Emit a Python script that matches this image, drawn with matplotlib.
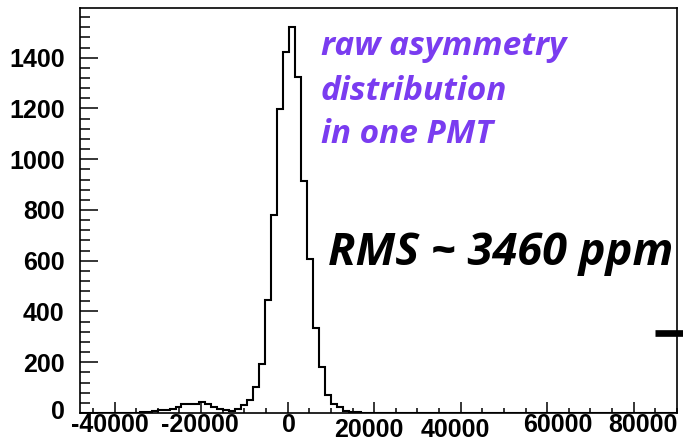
import numpy as np
import matplotlib
matplotlib.use("Agg")
import matplotlib.pyplot as plt
from matplotlib.transforms import ScaledTranslation


# -------------------------------------------------
# DATA
# -------------------------------------------------

bin_lo = -48000
bin_hi = 90000

counts = [
    0, 0, 0, 0, 0, 0, 0, 0, 1, 1,
    2, 4, 8, 13, 13, 17, 24, 34, 37, 37,
    42, 37, 24, 17, 10, 9, 16, 32, 52, 104,
    193, 445, 780, 1198, 1421, 1520, 1324, 913, 607, 336,
    180, 72, 37, 23, 8, 4, 2, 1, 0, 0,
    0, 0, 0, 0, 0, 0, 0, 0, 0, 0,
    0, 0, 0, 0, 0, 0, 0, 0, 0, 0,
    0, 0, 0, 0, 0, 0, 0, 0, 0, 0,
    0, 0, 0, 0, 0, 0, 0, 0, 0, 0,
    0, 0, 0, 0, 0, 0, 0, 0, 0, 0,
]

x_ticks = [-40000, -20000, 0, 20000, 40000, 60000, 80000]
x_labels = ["-40000", "-20000", "0", "20000", "40000", "60000", "80000"]
y_ticks = [0, 200, 400, 600, 800, 1000, 1200, 1400]

# little dash sticking out of the right frame
dash_x = [85000, 91500]
dash_y = [315, 315]

note_lines = ["raw asymmetry", "distribution", "in one PMT"]
rms_text = "RMS ~ 3460 ppm"


# -------------------------------------------------
# FIGURE
# -------------------------------------------------

plt.rcParams["axes.unicode_minus"] = False

fig = plt.figure(figsize=(6.83, 4.42), dpi=100)
ax = fig.add_axes([0.1171, 0.0656, 0.8741, 0.9163])

edges = np.linspace(bin_lo, bin_hi, len(counts) + 1)
ax.stairs(counts, edges, color="black", linewidth=1.5)

ax.set_xlim(bin_lo, bin_hi)
ax.set_ylim(0, 1596)

ax.plot(
    dash_x,
    dash_y,
    color="black",
    linewidth=4.8,
    solid_capstyle="butt",
    clip_on=False
)

for side in ["left", "right", "top", "bottom"]:
    ax.spines[side].set_linewidth(1.2)

# ticks like ROOT: inside, only on bottom and left
ax.set_xticks(x_ticks)
ax.set_xticklabels(x_labels)
ax.set_xticks(np.arange(-45000, 90001, 5000), minor=True)
ax.set_yticks(y_ticks)
ax.set_yticks(np.arange(0, 1597, 40), minor=True)

ax.tick_params(axis="both", which="both", direction="in",
               top=False, right=False, width=1.1)
ax.tick_params(axis="x", which="major", length=8, pad=0)
ax.tick_params(axis="x", which="minor", length=3.3)
ax.tick_params(axis="y", which="major", length=13, pad=11)
ax.tick_params(axis="y", which="minor", length=7)

for lab in ax.get_xticklabels() + ax.get_yticklabels():
    lab.set_fontfamily("Liberation Sans")
    lab.set_fontweight("bold")
    lab.set_fontsize(18)

# the x labels sit a bit unevenly in the original
x_shift = [-5, -1, 1, -5, -5, 11, 9]
x_drop = [0, 0, 0, 5, 5, 0, 0]
for lab, dx, dy in zip(ax.get_xticklabels(), x_shift, x_drop):
    lab.set_transform(
        lab.get_transform()
        + ScaledTranslation(dx / 100, -dy / 100, fig.dpi_scale_trans)
    )

# the "0" on the y axis sits a little higher
ax.get_yticklabels()[0].set_transform(
    ax.get_yticklabels()[0].get_transform()
    + ScaledTranslation(0, 4 / 100, fig.dpi_scale_trans)
)


# -------------------------------------------------
# ANNOTATIONS
# -------------------------------------------------

note_baselines = [55, 100, 143]
for line, base in zip(note_lines, note_baselines):
    fig.text(
        321 / 683, 1 - base / 442,
        line,
        color="#7A3CF0",
        fontfamily="Open Sans",
        fontweight="bold",
        fontstyle="italic",
        fontsize=24,
        va="baseline",
        ha="left"
    )

fig.text(
    328 / 683, 1 - 265 / 442,
    rms_text,
    color="black",
    fontfamily="Open Sans",
    fontweight="bold",
    fontstyle="italic",
    fontsize=32.5,
    va="baseline",
    ha="left"
)

fig.savefig("out.png", dpi=100)
